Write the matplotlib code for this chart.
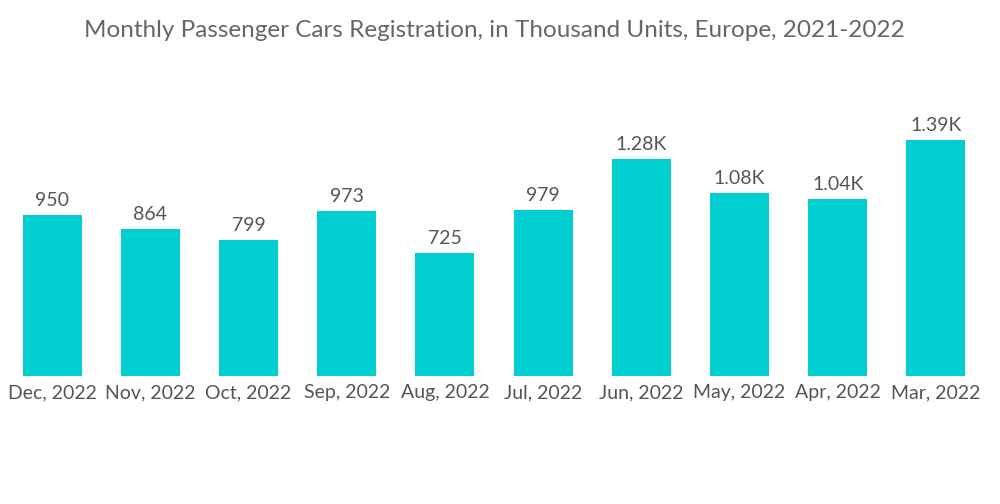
import matplotlib.pyplot as plt

# monthly passenger car registrations, thousand units
months = ["Dec, 2022", "Nov, 2022", "Oct, 2022", "Sep, 2022", "Aug, 2022",
          "Jul, 2022", "Jun, 2022", "May, 2022", "Apr, 2022", "Mar, 2022"]
values = [950, 864, 799, 973, 725, 979, 1280, 1080, 1040, 1390]


def fmt(v):
    if v >= 1000:
        return "%.2fK" % (v / 1000)
    return str(v)


plt.rcParams['font.family'] = ['Lato', 'DejaVu Sans']

fig = plt.figure(figsize=(10, 5.04), dpi=100)
ax = fig.add_axes([0.003, 0.254, 0.982, 0.539])

x = range(len(months))
bars = ax.bar(x, values, width=0.6, color="#00CED1")
for b, v in zip(bars, values):
    ax.text(b.get_x() + b.get_width() / 2, v + 35, fmt(v),
            ha="center", va="bottom", fontsize=14, color="#555555")

ax.set_xlim(-0.5, len(months) - 0.5)
ax.set_ylim(0, 1600)
ax.set_xticks(list(x))
ax.set_xticklabels(months, fontsize=14, color="#555555")
ax.tick_params(axis="x", length=0, pad=6)
ax.set_yticks([])
for s in ax.spines.values():
    s.set_visible(False)

fig.text(0.494, 0.94, "Monthly Passenger Cars Registration, in Thousand Units, Europe, 2021-2022",
         ha="center", va="center", fontsize=17.5, color="#666666")

fig.savefig("out.png")
